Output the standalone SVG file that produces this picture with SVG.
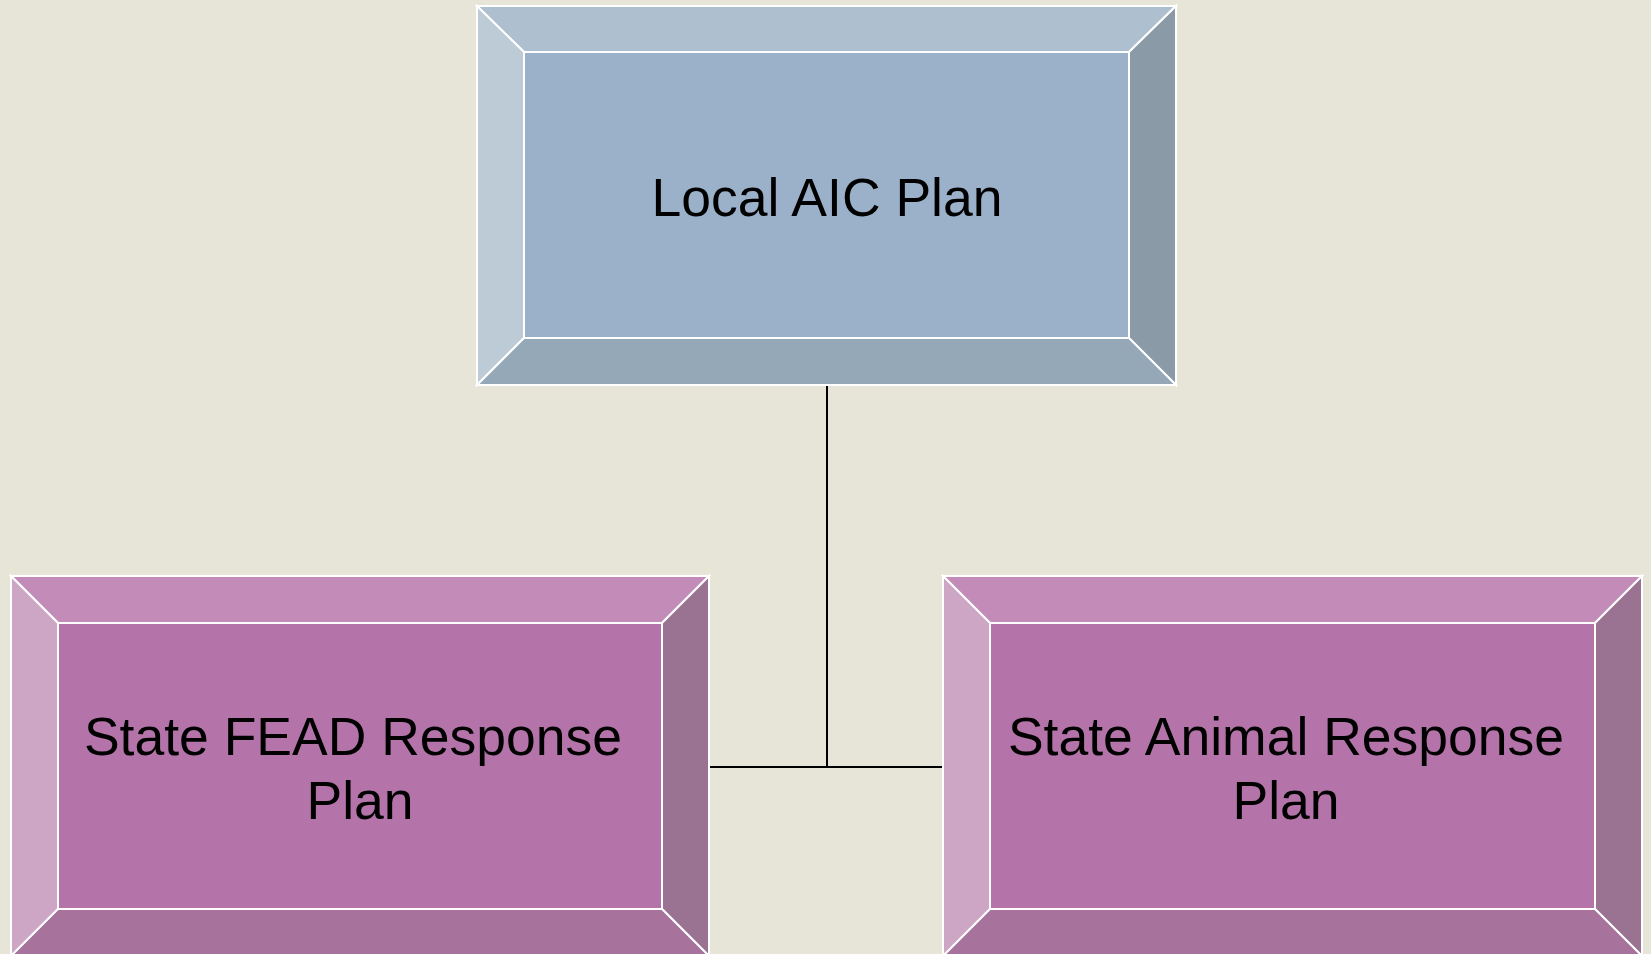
<svg xmlns="http://www.w3.org/2000/svg" width="1651" height="954" viewBox="0 0 1651 954">
<style>
.e{stroke:#FFFFFF;stroke-width:2;stroke-linejoin:miter}
.bt{fill:#AEC0D0}.bl{fill:#BDCBD6}.br{fill:#8A9AA6}.bb{fill:#94A8B8}.bi{fill:#9BB1CA}
.pt{fill:#C28BB8}.pl{fill:#CDA6C6}.pr{fill:#997391}.pb{fill:#A7739D}.pi{fill:#B474AA}
.t{font-family:"Liberation Sans",Arial,sans-serif;fill:#000;text-anchor:middle;font-size:53.5px}
.c{stroke:#000;stroke-width:2;fill:none}
</style>
<rect width="1651" height="954" fill="#E7E5D7"/>
<g id="connectors">
<path class="c" d="M827,386 V767 M710,767 H943"/>
</g>
<g id="node-local">
<polygon class="bt e" points="477,6 1176,6 1129,52 524,52"/>
<polygon class="bl e" points="477,6 524,52 524,338 477,385"/>
<polygon class="br e" points="1176,6 1176,385 1129,338 1129,52"/>
<polygon class="bb e" points="477,385 524,338 1129,338 1176,385"/>
<rect class="bi e" x="524" y="52" width="605" height="286"/>
<text class="t" x="827" y="216">Local AIC Plan</text>
</g>
<g id="node-fead">
<polygon class="pt e" points="11,576 709,576 662,623 58,623"/>
<polygon class="pl e" points="11,576 58,623 58,909 11,956"/>
<polygon class="pr e" points="709,576 709,956 662,909 662,623"/>
<polygon class="pb e" points="11,956 58,909 662,909 709,956"/>
<rect class="pi e" x="58" y="623" width="604" height="286"/>
<text class="t"><tspan x="353" y="755">State FEAD Response</tspan><tspan x="360" y="819">Plan</tspan></text>
</g>
<g id="node-animal">
<polygon class="pt e" points="943,576 1642,576 1595,623 990,623"/>
<polygon class="pl e" points="943,576 990,623 990,909 943,956"/>
<polygon class="pr e" points="1642,576 1642,956 1595,909 1595,623"/>
<polygon class="pb e" points="943,956 990,909 1595,909 1642,956"/>
<rect class="pi e" x="990" y="623" width="605" height="286"/>
<text class="t"><tspan x="1286" y="755">State Animal Response</tspan><tspan x="1286" y="819">Plan</tspan></text>
</g>
</svg>
